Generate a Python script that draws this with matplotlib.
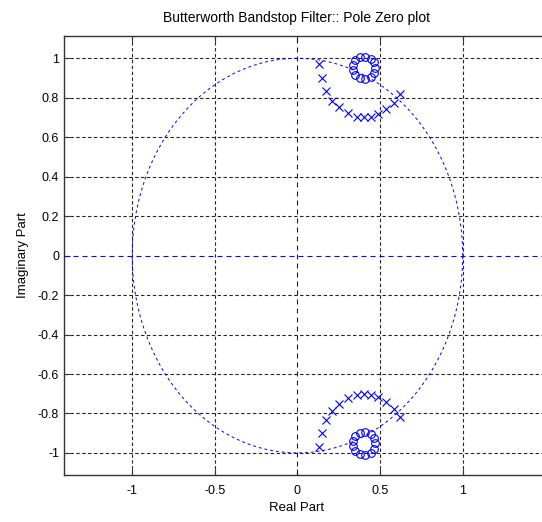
import numpy as np
import matplotlib.pyplot as plt

plt.rcParams['font.family'] = ['Liberation Sans', 'DejaVu Sans']

# poles in the upper half plane (lower half are conjugates)
pole_re = [0.132, 0.147, 0.173, 0.211, 0.253, 0.308, 0.358, 0.403, 0.443, 0.489, 0.536, 0.584, 0.620]
pole_im = [0.971, 0.898, 0.835, 0.785, 0.751, 0.724, 0.704, 0.701, 0.704, 0.717, 0.741, 0.775, 0.819]

# zeros: small ring of split roots near the unit circle (upper half)
zero_re = [0.472, 0.465, 0.443, 0.411, 0.378, 0.350, 0.335, 0.335, 0.350, 0.378, 0.411, 0.443, 0.465]
zero_im = [0.952, 0.979, 0.999, 1.009, 1.005, 0.990, 0.965, 0.939, 0.914, 0.899, 0.895, 0.905, 0.925]

xticks = [-1, -0.5, 0, 0.5, 1]
yticks = [-1, -0.8, -0.6, -0.4, -0.2, 0, 0.2, 0.4, 0.6, 0.8, 1]

fig = plt.figure(figsize=(5.42, 5.22), dpi=100)
ax = fig.add_axes([0.118, 0.090, 0.882, 0.841])

blue = (0, 0, 1)

# grid (the zero lines are drawn in blue instead)
for gx in xticks:
    if gx != 0:
        ax.axvline(gx, color='black', lw=0.8, ls=(0, (3.1, 2.2)), alpha=0.85, zorder=1)
for gy in yticks:
    if gy != 0:
        ax.axhline(gy, color='black', lw=0.8, ls=(0, (3.1, 2.2)), alpha=0.85, zorder=1)

# unit circle
t = np.linspace(0, 2 * np.pi, 400)
ax.plot(np.cos(t), np.sin(t), color=blue, lw=0.7, ls=(0, (3, 3)), zorder=3)
# real / imaginary axes
ax.axhline(0, color=blue, lw=0.8, ls=(0, (4.5, 3.6)), zorder=3)
ax.axvline(0, color=blue, lw=0.8, ls=(0, (4.5, 3.6)), zorder=3)

pr = np.array(pole_re)
pi_ = np.array(pole_im)
zr = np.array(zero_re)
zi = np.array(zero_im)
ax.plot(np.r_[pr, pr], np.r_[pi_, -pi_], 'x', color=blue, ms=6, mew=0.8, zorder=4)
ax.plot(np.r_[zr, zr], np.r_[zi, -zi], 'o', color=blue, ms=5.5, mew=0.8,
        mfc='none', zorder=4)

ax.set_xlim(-1.413, 1.48)
ax.set_ylim(-1.112, 1.113)
ax.set_xticks(xticks)
ax.set_xticklabels(['-1', '-0.5', '0', '0.5', '1'])
ax.set_yticks(yticks)
ax.set_yticklabels(['-1', '-0.8', '-0.6', '-0.4', '-0.2', '0', '0.2', '0.4', '0.6', '0.8', '1'])
ax.tick_params(direction='in', top=True, right=False, length=4, labelsize=9,
               color='#333333')
ax.tick_params(axis='x', pad=7)
ax.spines['right'].set_visible(False)
for s in ['left', 'top', 'bottom']:
    ax.spines[s].set_color('#333333')
    ax.spines[s].set_linewidth(1.0)

ax.set_title('Butterworth Bandstop Filter:: Pole Zero plot', fontsize=10, pad=10, x=0.487)
ax.set_xlabel('Real Part', fontsize=9.5, labelpad=4, x=0.487)
ax.set_ylabel('Imaginary Part', fontsize=9.5, labelpad=6)

fig.savefig('out.png', dpi=100)
